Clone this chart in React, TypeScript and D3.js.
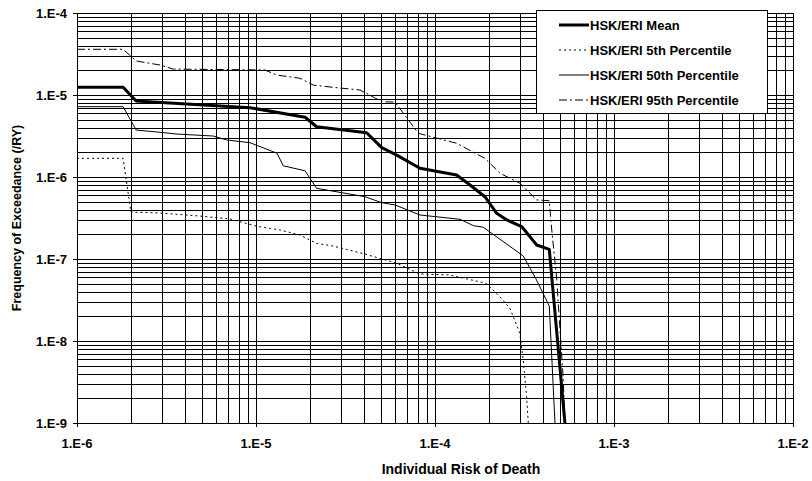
import React from 'react';
import * as d3 from 'd3';

// [individual risk, frequency of exceedance (/RY)]
const meanCurve: [number, number][] = [
  [1e-6, 1.24e-5], [1.81e-6, 1.24e-5], [2.14e-6, 8.45e-6], [9.26e-6, 7.0e-6],
  [1.88e-5, 5.35e-6], [2.18e-5, 4.1e-6], [4.15e-5, 3.47e-6], [5.04e-5, 2.28e-6],
  [6.11e-5, 1.85e-6], [8.24e-5, 1.28e-6], [1.32e-4, 1.06e-6], [1.57e-4, 7.98e-7],
  [1.9e-4, 5.75e-7], [2.21e-4, 3.61e-7], [2.52e-4, 2.99e-7], [3.05e-4, 2.49e-7],
  [3.7e-4, 1.48e-7], [4.35e-4, 1.31e-7], [5.32e-4, 1e-9],
];

const p5Curve: [number, number][] = [
  [1e-6, 1.69e-6], [1.81e-6, 1.69e-6], [2.0e-6, 3.74e-7], [2.91e-6, 3.64e-7],
  [4.86e-6, 3.34e-7], [7.16e-6, 3.08e-7], [1e-5, 2.52e-7], [1.36e-5, 2.26e-7],
  [1.76e-5, 1.96e-7], [2.18e-5, 1.55e-7], [2.69e-5, 1.44e-7], [4.06e-5, 1.15e-7],
  [6.11e-5, 8.87e-8], [8.24e-5, 6.56e-8], [1.21e-4, 6.38e-8], [1.93e-4, 5.06e-8],
  [2.31e-4, 3.44e-8], [2.62e-4, 2.51e-8], [2.98e-4, 1.24e-8], [3.11e-4, 5.86e-9],
  [3.25e-4, 2.09e-9], [3.32e-4, 1e-9],
];

const p50Curve: [number, number][] = [
  [1e-6, 7.2e-6], [1.81e-6, 7.2e-6], [2.14e-6, 3.74e-6], [2.91e-6, 3.51e-6],
  [3.61e-6, 3.34e-6], [5.77e-6, 3.16e-6], [6.86e-6, 2.83e-6], [9.26e-6, 2.62e-6],
  [1.31e-5, 1.95e-6], [1.42e-5, 1.37e-6], [1.88e-5, 1.19e-6], [2.18e-5, 7.28e-7],
  [4.06e-5, 5.75e-7], [5.04e-5, 4.86e-7], [5.98e-5, 4.56e-7], [8.24e-5, 3.44e-7],
  [1.38e-4, 3.05e-7], [1.64e-4, 2.55e-7], [1.86e-4, 2.44e-7], [3.11e-4, 1.09e-7],
  [3.66e-4, 5.75e-8], [4.35e-4, 2.67e-8], [4.68e-4, 1e-9],
];

const p95Curve: [number, number][] = [
  [1e-6, 3.61e-5], [1.81e-6, 3.61e-5], [2.14e-6, 2.6e-5], [2.91e-6, 2.32e-5],
  [3.45e-6, 2.07e-5], [1.12e-5, 2.02e-5], [1.31e-5, 1.75e-5], [1.76e-5, 1.6e-5],
  [2.09e-5, 1.32e-5], [2.7e-5, 1.24e-5], [3.81e-5, 1.15e-5], [5.06e-5, 8.28e-6],
  [5.98e-5, 8.2e-6], [8.07e-5, 3.41e-6], [1.32e-4, 2.58e-6], [1.9e-4, 1.69e-6],
  [2.31e-4, 1.11e-6], [2.98e-4, 8.38e-7], [3.7e-4, 5.25e-7], [4.35e-4, 5.14e-7],
  [4.49e-4, 2.26e-7], [4.79e-4, 5.55e-8], [5.21e-4, 3.34e-9], [5.32e-4, 1e-9],
];

const xTicks = [1e-6, 1e-5, 1e-4, 1e-3, 1e-2];
const yTicks = [1e-9, 1e-8, 1e-7, 1e-6, 1e-5, 1e-4];

const series = [
  { name: 'HSK/ERI Mean', data: meanCurve, width: 3, dash: 'none' },
  { name: 'HSK/ERI 5th Percentile', data: p5Curve, width: 1, dash: '2,3' },
  { name: 'HSK/ERI 50th Percentile', data: p50Curve, width: 1, dash: 'none' },
  { name: 'HSK/ERI 95th Percentile', data: p95Curve, width: 1, dash: '8,3,2,3' },
];

const W = 812;
const H = 481;
const left = 77, right = 793, top = 13, bottom = 423;
const font = '"Liberation Sans", Arial, sans-serif';

const fmt = (v: number) => `1.E${Math.round(Math.log10(v))}`;

export default function App() {
  const x = d3.scaleLog().domain([1e-6, 1e-2]).range([left, right]);
  const y = d3.scaleLog().domain([1e-9, 1e-4]).range([bottom, top]);

  // minor + major grid values (1..9 x each decade)
  const xGrid: number[] = [];
  for (let e = -6; e < -2; e++) for (let k = 1; k < 10; k++) xGrid.push(k * Math.pow(10, e));
  xGrid.push(1e-2);
  const yGrid: number[] = [];
  for (let e = -9; e < -4; e++) for (let k = 1; k < 10; k++) yGrid.push(k * Math.pow(10, e));
  yGrid.push(1e-4);

  const line = d3.line<[number, number]>()
    .x(d => x(d[0]))
    .y(d => y(d[1]));

  const crisp = (v: number) => Math.round(v) + 0.5;

  // legend box
  const lgX = 536, lgY = 10, lgW = 231, lgH = 103;

  return (
    <svg width={W} height={H} style={{ position: 'absolute', left: 0, top: 0, background: '#fff' }}
      fontFamily={font} fontWeight="bold" fontSize={13}>
      <defs>
        <clipPath id="plot">
          <rect x={left} y={top} width={right - left} height={bottom - top} />
        </clipPath>
      </defs>

      {/* grid */}
      <g stroke="#000" strokeWidth={1} shapeRendering="crispEdges">
        {xGrid.map((v, i) => (
          <line key={'gx' + i} x1={crisp(x(v))} x2={crisp(x(v))} y1={top} y2={bottom} />
        ))}
        {yGrid.map((v, i) => (
          <line key={'gy' + i} x1={left} x2={right} y1={crisp(y(v))} y2={crisp(y(v))} />
        ))}
      </g>

      {/* axes + ticks */}
      <g stroke="#000" strokeWidth={1} shapeRendering="crispEdges">
        <line x1={crisp(left)} x2={crisp(left)} y1={top} y2={bottom} />
        <line x1={left} x2={right} y1={crisp(bottom)} y2={crisp(bottom)} />
        {xTicks.map(v => (
          <line key={'tx' + v} x1={crisp(x(v))} x2={crisp(x(v))} y1={bottom} y2={bottom + 4} />
        ))}
        {yTicks.map(v => (
          <line key={'ty' + v} x1={left - 4} x2={left} y1={crisp(y(v))} y2={crisp(y(v))} />
        ))}
      </g>

      {/* curves */}
      <g clipPath="url(#plot)" fill="none" stroke="#000" strokeLinejoin="round">
        {series.map(s => (
          <path key={s.name} d={line(s.data) || ''} strokeWidth={s.width}
            strokeDasharray={s.dash} />
        ))}
      </g>

      {/* tick labels */}
      {xTicks.map(v => (
        <text key={'lx' + v} x={x(v)} y={448} textAnchor="middle">{fmt(v)}</text>
      ))}
      {yTicks.map(v => (
        <text key={'ly' + v} x={67} y={y(v)} dy="0.35em" textAnchor="end">{fmt(v)}</text>
      ))}

      {/* axis titles */}
      <text x={461} y={474} textAnchor="middle" fontSize={14}>Individual Risk of Death</text>
      <text transform={`translate(21,${(top + bottom) / 2}) rotate(-90)`} textAnchor="middle"
        fontSize={12.5}>
        Frequency of Exceedance (/RY)
      </text>

      {/* legend */}
      <g>
        <rect x={lgX + 0.5} y={lgY + 0.5} width={lgW} height={lgH} fill="#fff" stroke="#000"
          shapeRendering="crispEdges" />
        {series.map((s, i) => {
          const ly = 25 + i * 25;
          return (
            <g key={'lg' + s.name}>
              <line x1={559} x2={589} y1={ly} y2={ly} stroke="#000" strokeWidth={s.width}
                strokeDasharray={s.dash} />
              <text x={590} y={ly} dy="0.35em">{s.name}</text>
            </g>
          );
        })}
      </g>
    </svg>
  );
}
